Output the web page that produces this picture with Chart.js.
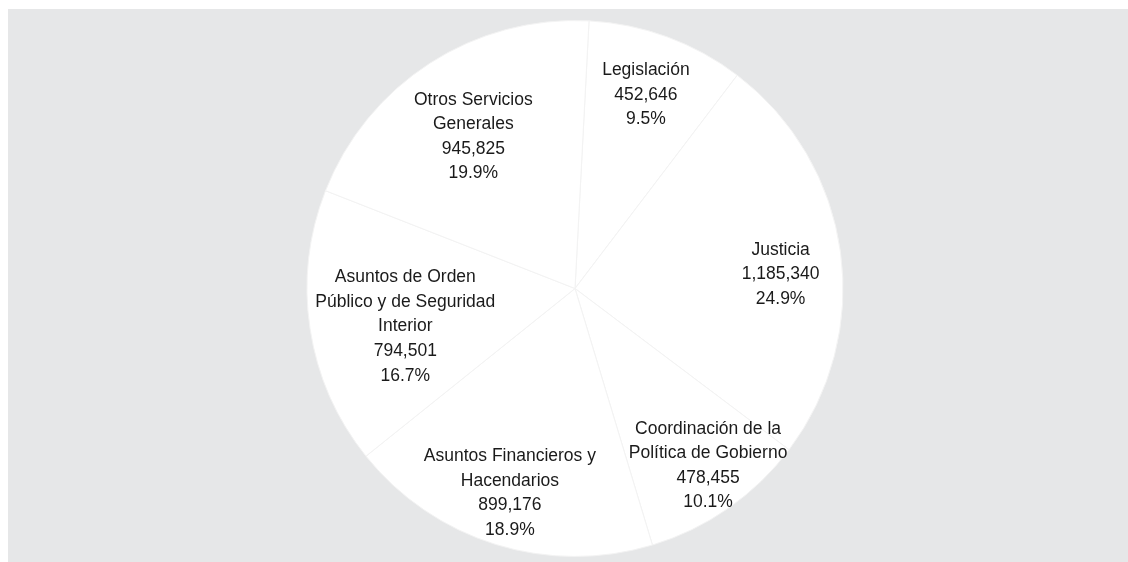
<!DOCTYPE html>
<html>
<head>
<meta charset="utf-8">
<script src="https://cdn.jsdelivr.net/npm/chart.js@4/dist/chart.umd.min.js"></script>
<style>
  html, body { margin: 0; padding: 0; background: #ffffff; }
  #wrap { width: 1128px; height: 562px; position: relative; }
</style>
</head>
<body>
<div id="wrap"><canvas id="c" width="1128" height="562"></canvas></div>
<script>
// ---- Data ----
const categories = [
  ["Legislación"],
  ["Justicia"],
  ["Coordinación de la", "Política de Gobierno"],
  ["Asuntos Financieros y", "Hacendarios"],
  ["Asuntos de Orden", "Público y de Seguridad", "Interior"],
  ["Otros Servicios", "Generales"]
];
const values = [452646, 1185340, 478455, 899176, 794501, 945825];

// ---- Label placement (layout settings, fraction of radius and angle tweak in degrees) ----
const labelRadiusFraction = [0.769, 0.769, 0.827, 0.802, 0.649, 0.682];
const labelAngleShift = [0, 4, -2, 0.4, -4, -1];

const total = values.reduce((a, b) => a + b, 0);

const bgPlugin = {
  id: 'bgPanel',
  beforeDraw(chart) {
    const ctx = chart.ctx;
    ctx.save();
    ctx.fillStyle = '#e6e7e8';
    ctx.fillRect(8, 9, chart.width - 8, chart.height - 9);
    ctx.restore();
  }
};

const labelPlugin = {
  id: 'sliceLabels',
  afterDatasetsDraw(chart) {
    const ctx = chart.ctx;
    const meta = chart.getDatasetMeta(0);
    ctx.save();
    ctx.font = '17.5px "Liberation Sans", Arial, sans-serif';
    ctx.fillStyle = '#1a1a1a';
    ctx.textAlign = 'center';
    ctx.textBaseline = 'middle';
    const lh = 24.6;
    meta.data.forEach((arc, i) => {
      const p = arc.getProps(['x', 'y', 'startAngle', 'endAngle', 'outerRadius'], true);
      const mid = (p.startAngle + p.endAngle) / 2 + labelAngleShift[i] * Math.PI / 180;
      const r = p.outerRadius * labelRadiusFraction[i];
      const cx = p.x + Math.cos(mid) * r;
      const cy = p.y + Math.sin(mid) * r;
      const lines = categories[i].concat([
        values[i].toLocaleString('en-US'),
        (values[i] / total * 100).toFixed(1) + '%'
      ]);
      const n = lines.length;
      lines.forEach((t, k) => {
        ctx.fillText(t, cx, cy + (k - (n - 1) / 2) * lh);
      });
    });
    ctx.restore();
  }
};

new Chart(document.getElementById('c'), {
  type: 'pie',
  data: {
    labels: categories.map(c => c.join(' ')),
    datasets: [{
      data: values,
      backgroundColor: '#ffffff',
      borderColor: '#f3f3f3',
      borderWidth: 1
    }]
  },
  options: {
    responsive: false,
    animation: false,
    rotation: 3,
    layout: { padding: { top: 20, bottom: 5, left: 22, right: 0 } },
    plugins: {
      legend: { display: false },
      tooltip: { enabled: false }
    }
  },
  plugins: [bgPlugin, labelPlugin]
});
</script>
</body>
</html>
